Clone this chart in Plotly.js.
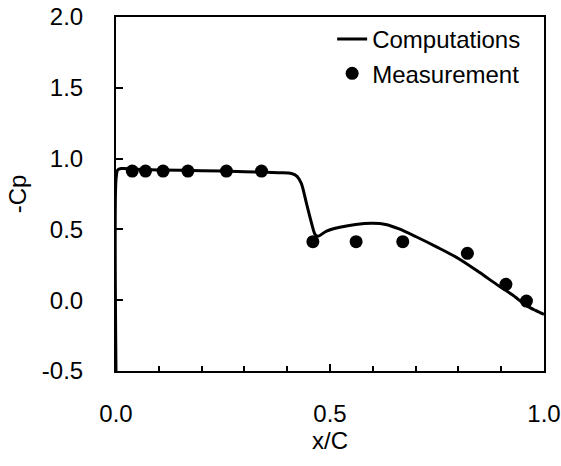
<!DOCTYPE html>
<html>
<head>
<meta charset="utf-8">
<script src="https://cdn.plot.ly/plotly-3.0.1.min.js"></script>
<style>html,body{margin:0;padding:0;background:#fff;}#chart{width:561px;height:466px;}</style>
</head>
<body>
<div id="chart"></div>
<script>
var compX = [0, 0, 0.004, 0.012, 0.05, 0.1, 0.2, 0.3, 0.38, 0.41, 0.423, 0.433, 0.445, 0.457, 0.465, 0.472, 0.492, 0.523, 0.56, 0.60, 0.63, 0.66, 0.70, 0.75, 0.80, 0.85, 0.89, 0.925, 0.96, 0.98, 1.0];
var compY = [-0.5, 0.85, 0.92, 0.93, 0.925, 0.92, 0.915, 0.908, 0.9, 0.895, 0.875, 0.825, 0.684, 0.543, 0.465, 0.452, 0.488, 0.515, 0.535, 0.543, 0.535, 0.505, 0.45, 0.375, 0.295, 0.195, 0.11, 0.04, -0.04, -0.072, -0.1];
var measX = [0.038, 0.069, 0.11, 0.168, 0.258, 0.34, 0.46, 0.561, 0.67, 0.821, 0.911, 0.959];
var measY = [0.912, 0.912, 0.912, 0.912, 0.912, 0.912, 0.413, 0.413, 0.413, 0.331, 0.112, -0.006];
var xTickVals = [0, 0.5, 1.0];
var xTickText = ['0.0', '0.5', '1.0'];
var yTickVals = [-0.5, 0, 0.5, 1.0, 1.5, 2.0];
var yTickText = ['-0.5', '0.0', '0.5', '1.0', '1.5', '2.0'];

var font = 'Arial, "Liberation Sans", sans-serif';
var traces = [
  {x: compX, y: compY, type: 'scatter', mode: 'lines', name: 'Computations',
   line: {color: '#000', width: 3, shape: 'spline', smoothing: 0.8}},
  {x: measX, y: measY, type: 'scatter', mode: 'markers', name: 'Measurement',
   marker: {color: '#000', size: 13}}
];
var layout = {
  width: 561, height: 466,
  margin: {l: 116, r: 17, t: 17, b: 95},
  paper_bgcolor: '#fff', plot_bgcolor: '#fff',
  font: {family: font, size: 24, color: '#000'},
  showlegend: true,
  legend: {x: 0.505, xanchor: 'left', y: 1.0, yanchor: 'top', bgcolor: 'rgba(0,0,0,0)',
           font: {family: font, size: 24, color: '#000'}, itemwidth: 30, tracegroupgap: 0},
  xaxis: {range: [0, 1], tickvals: xTickVals, ticktext: xTickText, ticks: 'inside', ticklen: 7,
          tickwidth: 2, tickcolor: '#000', showline: true, linecolor: '#000', linewidth: 2,
          mirror: true, showgrid: false, zeroline: false, ticklabelstandoff: 20,
          minor: {dtick: 0.1, tick0: 0, ticks: 'inside', ticklen: 5, tickwidth: 2, tickcolor: '#000', showgrid: false},
          title: {text: 'x/C', font: {family: font, size: 24, color: '#000'}, standoff: 6}},
  yaxis: {range: [-0.5, 2.0], tickvals: yTickVals, ticktext: yTickText, ticks: 'inside', ticklen: 7,
          tickwidth: 2, tickcolor: '#000', showline: true, linecolor: '#000', linewidth: 2,
          mirror: true, showgrid: false, zeroline: false, ticklabelstandoff: 26,
          title: {text: '-Cp', font: {family: font, size: 24, color: '#000'}, standoff: 8}}
};
Plotly.newPlot('chart', traces, layout, {displayModeBar: false, staticPlot: true});
</script>
</body>
</html>
